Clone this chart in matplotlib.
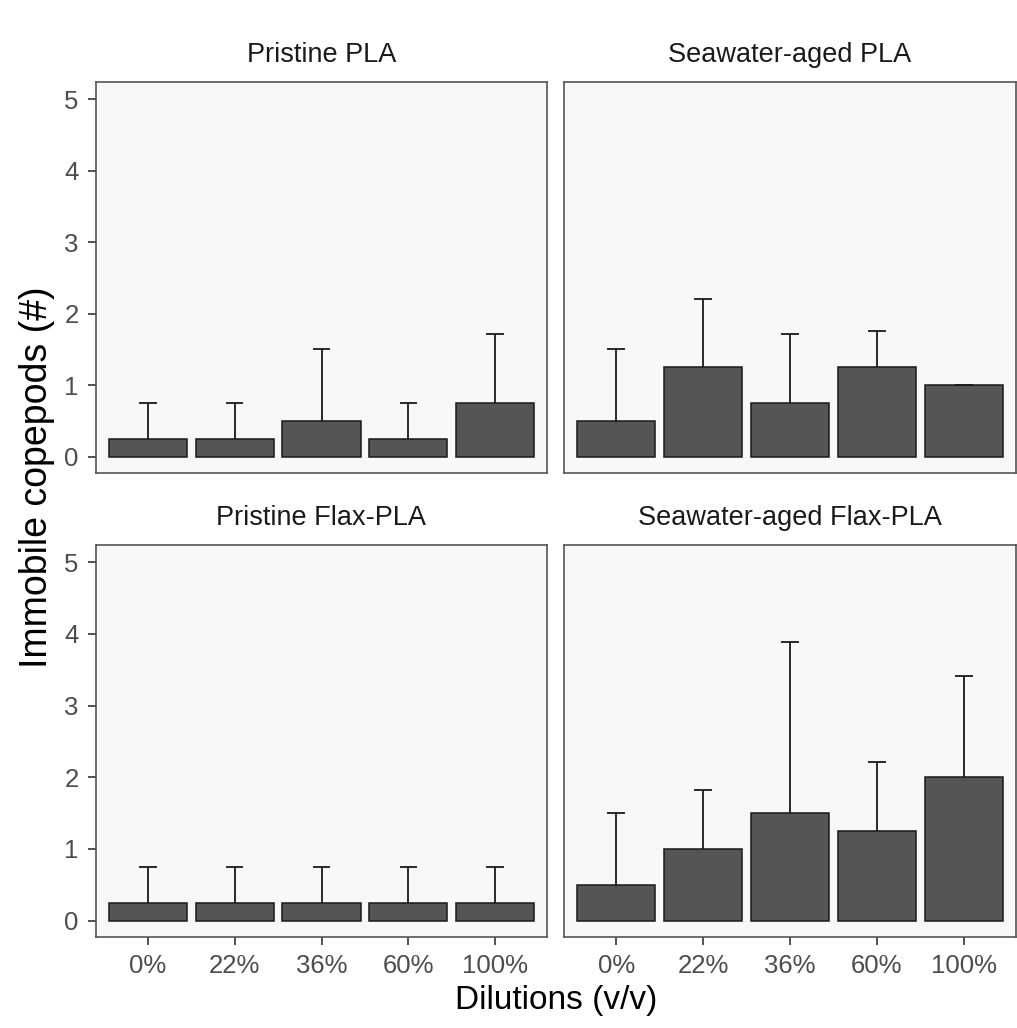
import matplotlib
matplotlib.use("Agg")
import matplotlib.pyplot as plt

#DATA
dilutions = ["0%", "22%", "36%", "60%", "100%"]
panel_titles = ["Pristine PLA", "Seawater-aged PLA",
                "Pristine Flax-PLA", "Seawater-aged Flax-PLA"]

mean_pristine_pla = [0.25, 0.25, 0.5, 0.25, 0.75]
sd_pristine_pla = [0.5, 0.5, 1.0, 0.5, 0.96]

mean_aged_pla = [0.5, 1.25, 0.75, 1.25, 1.0]
sd_aged_pla = [1.0, 0.96, 0.96, 0.5, 0.0]

mean_pristine_flax = [0.25, 0.25, 0.25, 0.25, 0.25]
sd_pristine_flax = [0.5, 0.5, 0.5, 0.5, 0.5]

mean_aged_flax = [0.5, 1.0, 1.5, 1.25, 2.0]
sd_aged_flax = [1.0, 0.82, 2.38, 0.96, 1.41]

means = [mean_pristine_pla, mean_aged_pla, mean_pristine_flax, mean_aged_flax]
sds = [sd_pristine_pla, sd_aged_pla, sd_pristine_flax, sd_aged_flax]

#STYLE
plt.rcParams["font.family"] = ["Liberation Sans", "DejaVu Sans"]

W, H = 1017, 1028
fig = plt.figure(figsize=(W / 100, H / 100), dpi=100)

# panel boxes in pixels: left, top, right, bottom
boxes = [
    (96, 82, 547, 473),
    (564, 82, 1016, 473),
    (96, 545, 547, 937),
    (564, 545, 1016, 937),
]

x = list(range(1, len(dilutions) + 1))

for i, (l, t, r, b) in enumerate(boxes):
    ax = fig.add_axes([l / W, 1 - b / H, (r - l) / W, (b - t) / H])
    ax.set_facecolor("#f8f8f8")

    ax.bar(x, means[i], width=0.9, color="#555555",
           edgecolor="#1a1a1a", linewidth=1.1, zorder=2)

    # only the upper half of the error bar, like in the paper figure
    tops = [m + s for m, s in zip(means[i], sds[i])]
    ax.vlines(x, means[i], tops, color="#1a1a1a", linewidth=1.3, zorder=3)
    ax.hlines(tops, [v - 0.1 for v in x], [v + 0.1 for v in x],
              color="#1a1a1a", linewidth=1.3, zorder=3)

    ax.set_xlim(0.4, 5.6)
    ax.set_ylim(-0.23, 5.24)

    for side in ax.spines.values():
        side.set_color("#555555")
        side.set_linewidth(1.2)

    ax.tick_params(length=6, width=1.2, color="#333333",
                   labelsize=18.5, labelcolor="#4d4d4d")
    ax.tick_params(axis="x", pad=6)
    ax.tick_params(axis="y", pad=6.5)

    ax.set_xticks(x)
    if i >= 2:
        ax.set_xticklabels(dilutions)
    else:
        ax.tick_params(axis="x", length=0, labelbottom=False)

    ax.set_yticks([0, 1, 2, 3, 4, 5])
    if i % 2 == 1:
        ax.tick_params(axis="y", length=0, labelleft=False)

    ax.text(0.5, 1 + 27 / (b - t), panel_titles[i], transform=ax.transAxes,
            ha="center", va="center", fontsize=19.5, color="#1a1a1a")

#AXIS TITLES
fig.text(556 / W, 1 - 1000 / H, "Dilutions (v/v)",
         ha="center", va="center", fontsize=24, color="black")
fig.text(37 / W, 1 - 477 / H, "Immobile copepods (#)", rotation=90,
         ha="center", va="center", fontsize=27, color="black")

fig.savefig("out.png", dpi=100, facecolor="white")
